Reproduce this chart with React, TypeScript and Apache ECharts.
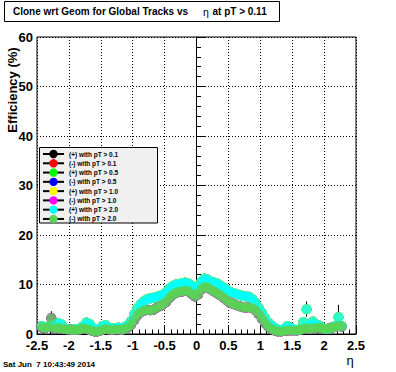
import React, { useEffect, useRef } from "react";
import * as echarts from "echarts";

// eta bin centres (bins of 0.05, first filled bin centred at -2.425)
const ETA_START = -2.425;
const ETA_STEP = 0.05;

// (+) with pT > 2.0 (cyan)
const plusValues = [
  1.6, 1.4, 1.5, 1.8, 1.5, 2.2, 2.0, 1.2, 1.0, 0.9,
  0.9, 1.0, 1.1, 1.6, 2.3, 2.0, 1.2, 0.8, 0.9, 1.6,
  1.8, 1.3, 1.1, 1.2, 1.3, 1.2, 1.4, 1.8, 2.6, 4.0,
  5.2, 6.0, 6.6, 7.0, 7.2, 7.3, 7.5, 7.7, 8.0, 8.4,
  9.2, 9.7, 10.0, 10.1, 10.3, 10.4, 10.2, 9.8, 9.3, 9.6,
  10.6, 11.2, 11.0, 10.6, 10.4, 10.2, 9.8, 9.4, 8.9, 8.5,
  8.3, 8.1, 7.9, 7.7, 7.6, 7.5, 7.0, 6.3, 5.3, 4.3,
  3.2, 2.3, 1.7, 1.2, 0.9, 0.8, 1.0, 1.6, 1.3, 0.9,
  0.8, 1.0, 2.4, 5.0, 1.8, 2.5, 1.9, 1.7, 1.2, 1.0,
  1.1, 1.3, 1.6, 3.4, 1.6,
];

// (-) with pT > 2.0 (light green)
const minusValues = [
  1.3, 1.2, 1.4, 3.2, 1.1, 1.2, 1.1, 1.0, 0.9, 0.9,
  0.8, 0.8, 0.9, 1.2, 1.0, 0.8, 0.6, 0.4, 0.6, 0.8,
  1.0, 0.9, 0.8, 0.9, 0.9, 0.8, 1.0, 1.3, 1.9, 2.8,
  3.8, 4.4, 4.7, 4.9, 4.8, 4.9, 5.3, 5.6, 6.0, 6.5,
  7.3, 7.9, 8.3, 8.5, 8.6, 8.8, 8.6, 8.1, 7.6, 8.0,
  9.0, 9.5, 9.4, 9.0, 8.6, 8.2, 7.8, 7.3, 6.8, 6.3,
  6.1, 5.8, 5.6, 5.4, 5.3, 5.4, 5.2, 4.8, 4.0, 3.1,
  2.2, 1.5, 1.0, 0.7, 0.5, 0.5, 0.6, 0.7, 0.7, 0.7,
  0.7, 0.8, 1.0, 1.2, 1.0, 1.1, 1.2, 1.3, 1.1, 1.0,
  1.1, 1.3, 1.4, 1.6, 1.5,
];

// visible error bars: [eta, low, high]
const errorBars = [
  [-2.275, 1.8, 4.6],
  [1.725, 3.5, 6.6],
  [2.225, 1.9, 5.9],
];

const legendNames = [
  "(+) with pT > 0.1",
  "(-) with pT > 0.1",
  "(+) with pT > 0.5",
  "(-) with pT > 0.5",
  "(+) with pT > 1.0",
  "(-) with pT > 1.0",
  "(+) with pT > 2.0",
  "(-) with pT > 2.0",
];
const seriesColors = [
  "#000000", "#ff0000", "#00ff00", "#0000ff",
  "#ffff00", "#ff00ff", "#00ffff", "#59d454",
];

const xTicks = { min: -2.5, max: 2.5, interval: 0.5 };
const yTicks = { min: 0, max: 60, interval: 10 };

const FONT = "'Liberation Sans', Arial, Helvetica, sans-serif";

export default function App() {
  const ref = useRef<HTMLDivElement>(null);
  useEffect(() => {
    if (!ref.current) return;
    const chart = echarts.init(ref.current, undefined, { renderer: "svg" });
    const GL = 37, GT = 37, GW = 319, GH = 297;

    const toPairs = (vals: number[]) =>
      vals.map((v, i) => [+(ETA_START + i * ETA_STEP).toFixed(3), v]);

    const series: any[] = [];
    series.push({
      type: "custom",
      silent: true,
      z: 1,
      renderItem: (params: any, api: any) => {
        const x = api.value(0);
        const p1 = api.coord([x, api.value(1)]);
        const p2 = api.coord([x, api.value(2)]);
        return {
          type: "line",
          shape: { x1: p1[0], y1: p1[1], x2: p2[0], y2: p2[1] },
          style: { stroke: "#000", lineWidth: 1 },
        };
      },
      data: errorBars,
    });
    legendNames.forEach((name, k) => {
      const vals = k % 2 === 0 ? plusValues : minusValues;
      series.push({
        type: "scatter",
        name,
        silent: true,
        z: 2 + k,
        symbol: "circle",
        symbolSize: 10,
        itemStyle: { color: seriesColors[k] },
        data: toPairs(vals),
      });
    });

    const txt = (x: number, y: number, text: string, size: number, bold: boolean, align = "left", extra: any = {}) => ({
      type: "text",
      x,
      y,
      ...extra,
      style: {
        text,
        fontFamily: FONT,
        fontSize: size,
        fontWeight: bold ? "bold" : "normal",
        fill: "#000",
        align,
        verticalAlign: "middle",
      },
    });

    const legendRows = legendNames.map((name, k) => {
      const y = 154 + k * 9.28;
      return [
        { type: "line", shape: { x1: 43, y1: y, x2: 64, y2: y }, style: { stroke: "#000", lineWidth: 2 } },
        { type: "circle", shape: { cx: 53.5, cy: y, r: 4.2 }, style: { fill: seriesColors[k] } },
        txt(69, y, name, 6.5, true),
      ];
    }).flat();

    chart.setOption({
      animation: false,
      backgroundColor: "#ffffff",
      grid: {
        left: GL, top: GT, width: GW, height: GH,
        show: true, borderColor: "#000", borderWidth: 1, backgroundColor: "transparent",
      },
      xAxis: {
        type: "value",
        min: xTicks.min, max: xTicks.max, interval: xTicks.interval,
        axisLine: { show: true, onZero: false, lineStyle: { color: "#000", width: 1 } },
        axisTick: { show: true, inside: true, length: 9, lineStyle: { color: "#000" } },
        minorTick: { show: true, splitNumber: 5, length: 4.5, lineStyle: { color: "#000" } },
        splitLine: { show: true, lineStyle: { color: "#000", type: [1, 2], width: 1 } },
        axisLabel: { color: "#000", fontFamily: FONT, fontWeight: "bold", fontSize: 13, margin: 4.5 },
      },
      yAxis: {
        type: "value",
        min: yTicks.min, max: yTicks.max, interval: yTicks.interval,
        axisLine: { show: true, lineStyle: { color: "#000", width: 1 } },
        axisTick: { show: true, inside: true, length: 9, lineStyle: { color: "#000" } },
        minorTick: { show: true, splitNumber: 5, length: 4.5, lineStyle: { color: "#000" } },
        splitLine: { show: true, lineStyle: { color: "#000", type: [1, 2], width: 1 } },
        axisLabel: { color: "#000", fontFamily: FONT, fontWeight: "bold", fontSize: 13, margin: 4 },
      },
      series,
      graphic: [
        {
          type: "rect",
          shape: { x: 4.5, y: 1.5, width: 275, height: 20 },
          style: { fill: "#fff", stroke: "#000", lineWidth: 1 },
        },
        txt(13, 11.5, "Clone wrt Geom for Global Tracks vs", 10, true),
        txt(203, 12, "η", 10.5, false),
        txt(212.5, 11.5, "at pT > 0.11", 10, true),
        txt(12, 90, "Efficiency (%)", 13, true, "center", { rotation: Math.PI / 2 }),
        txt(350, 360, "η", 13, false, "center"),
        txt(3, 364.5, "Sat Jun  7 10:43:49 2014", 8, true),
        {
          type: "rect",
          z: 20,
          shape: { x: 39.5, y: 147.5, width: 118, height: 75.5 },
          style: { fill: "#f0f0f0", stroke: "#000", lineWidth: 1 },
        },
        ...legendRows.map((e: any) => ({ ...e, z: 21 })),
      ],
    });
    return () => chart.dispose();
  }, []);
  return (
    <div
      ref={ref}
      style={{ position: "fixed", left: 0, top: 0, width: 396, height: 372, background: "#fff" }}
    />
  );
}
